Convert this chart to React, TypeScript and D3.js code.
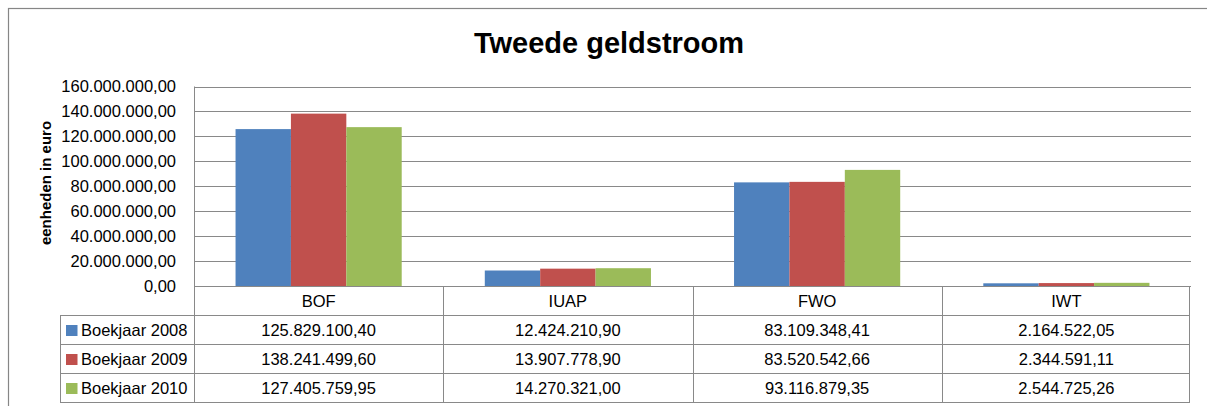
import React from "react";
import * as d3 from "d3";

const categories = ["BOF", "IUAP", "FWO", "IWT"];
const seriesNames = ["Boekjaar 2008", "Boekjaar 2009", "Boekjaar 2010"];
const values2008 = [125829100.4, 12424210.9, 83109348.41, 2164522.05];
const values2009 = [138241499.6, 13907778.9, 83520542.66, 2344591.11];
const values2010 = [127405759.95, 14270321.0, 93116879.35, 2544725.26];
const yTicks = [0, 20e6, 40e6, 60e6, 80e6, 100e6, 120e6, 140e6, 160e6];
const colors = ["#4F81BD", "#C0504D", "#9BBB59"];
const title = "Tweede geldstroom";
const yTitle = "eenheden in euro";

const W = 1207;
const H = 406;

export default function App() {
  const series = [values2008, values2009, values2010];
  const locale = d3.formatLocale({ decimal: ",", thousands: ".", grouping: [3], currency: ["€", ""] });
  const fmt = locale.format(",.2f");

  const left = 194;
  const right = 1191;
  const top = 86.5;
  const bottom = 286;
  const rowH = 29;
  const legendLeft = 60;
  const font = "'Liberation Sans', Arial, sans-serif";
  const fs = 16.5;
  const lineColor = "#898989";

  const y = d3.scaleLinear().domain([0, 160e6]).range([bottom, top]);
  const x0 = d3.scaleBand<string>().domain(categories).range([left, right]).paddingInner(0).paddingOuter(0);
  const x1 = d3
    .scaleBand<string>()
    .domain(seriesNames)
    .range([0, x0.bandwidth()])
    .paddingInner(0)
    .paddingOuter(0.75);

  const tableBottom = bottom + rowH * 4;

  return (
    <svg width={W} height={H} style={{ position: "absolute", left: 0, top: 0 }} fontFamily={font}>
      <rect x={0} y={0} width={W} height={H} fill="#fff" />
      <rect x={8.5} y={8.5} width={W + 20} height={H + 20} fill="none" stroke="#868686" strokeWidth={1.2} />
      <text x={609} y={53} textAnchor="middle" fontSize={29} fontWeight="bold" fill="#000">
        {title}
      </text>
      <text
        transform={`translate(46,183) rotate(-90)`}
        textAnchor="middle"
        dy="0.35em"
        fontSize={15}
        fontWeight="bold"
        fill="#000"
      >
        {yTitle}
      </text>
      {yTicks.map((t) => (
        <g key={t}>
          <line x1={left} x2={right} y1={Math.round(y(t)) + 0.5} y2={Math.round(y(t)) + 0.5} stroke={lineColor} strokeWidth={1} />
          <text x={176} y={y(t)} dy="0.35em" textAnchor="end" fontSize={fs} fill="#000">
            {fmt(t)}
          </text>
        </g>
      ))}
      <line x1={left + 0.5} x2={left + 0.5} y1={top} y2={bottom} stroke={lineColor} />
      {categories.map((c, ci) =>
        series.map((vals, si) => {
          const bx = (x0(c) as number) + (x1(seriesNames[si]) as number);
          return (
            <rect
              key={c + si}
              x={bx}
              y={y(vals[ci])}
              width={x1.bandwidth()}
              height={bottom - y(vals[ci])}
              fill={colors[si]}
            />
          );
        })
      )}
      {/* data table */}
      <g stroke={lineColor} strokeWidth={1} fill="none">
        <line x1={left} x2={right - 1} y1={bottom + 0.5} y2={bottom + 0.5} />
        {[1, 2, 3, 4].map((r) => (
          <line key={r} x1={legendLeft} x2={right - 1} y1={bottom + r * rowH + 0.5} y2={bottom + r * rowH + 0.5} />
        ))}
        <line x1={legendLeft + 0.5} x2={legendLeft + 0.5} y1={bottom + rowH} y2={tableBottom + 0.5} />
        {categories.map((c) => (
          <line
            key={c}
            x1={Math.round(x0(c) as number) + 0.5}
            x2={Math.round(x0(c) as number) + 0.5}
            y1={bottom}
            y2={tableBottom + 0.5}
          />
        ))}
        <line x1={right - 1.5} x2={right - 1.5} y1={bottom} y2={tableBottom + 0.5} />
      </g>
      {categories.map((c) => (
        <text
          key={c}
          x={(x0(c) as number) + x0.bandwidth() / 2}
          y={bottom + rowH / 2 + 1}
          dy="0.35em"
          textAnchor="middle"
          fontSize={fs}
          fill="#000"
        >
          {c}
        </text>
      ))}
      {seriesNames.map((s, si) => {
        const cy = bottom + rowH * (si + 1) + rowH / 2 + 1;
        return (
          <g key={s}>
            <rect x={66} y={cy - 5.5} width={11.5} height={11} fill={colors[si]} />
            <text x={81} y={cy} dy="0.35em" fontSize={fs} fill="#000">
              {s}
            </text>
            {categories.map((c, ci) => (
              <text
                key={c}
                x={(x0(c) as number) + x0.bandwidth() / 2}
                y={cy}
                dy="0.35em"
                textAnchor="middle"
                fontSize={fs}
                fill="#000"
              >
                {fmt(series[si][ci])}
              </text>
            ))}
          </g>
        );
      })}
    </svg>
  );
}
